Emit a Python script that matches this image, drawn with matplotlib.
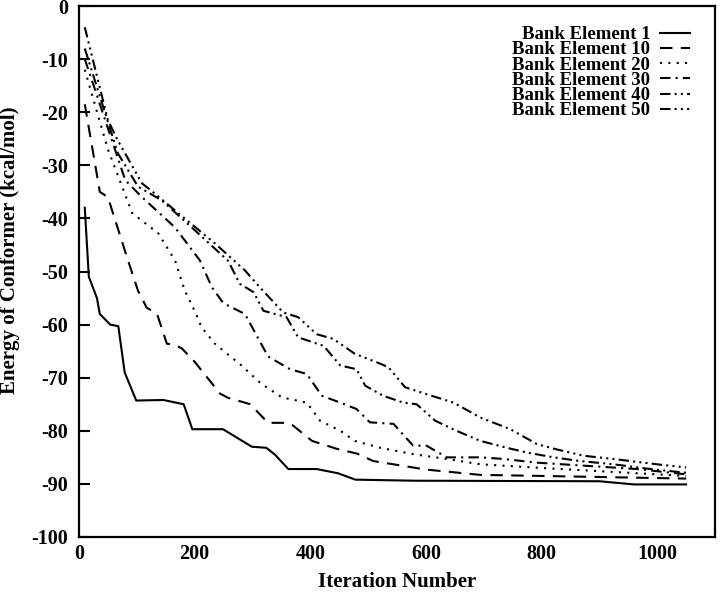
import matplotlib
matplotlib.use("Agg")
import matplotlib.pyplot as plt

# ---- data (iteration, energy in kcal/mol) ----
x1 = [10, 17, 31, 36, 54, 68, 79, 99, 146, 181, 196, 249, 299, 324, 339, 362, 411, 448, 478, 580, 900, 960, 1050]
y1 = [-38, -51, -55, -58, -60, -60.3, -69, -74.3, -74.2, -75, -79.7, -79.7, -83, -83.2, -84.5, -87.2, -87.2, -88, -89.2, -89.4, -89.5, -90.1, -90.1]

x10 = [10, 36, 50, 85, 102, 117, 135, 152, 165, 178, 200, 244, 258, 287, 296, 327, 360, 370, 403, 446, 481, 509, 600, 694, 800, 900, 1050]
y10 = [-18.5, -35, -36, -48, -53.6, -56.8, -58, -63.6, -63.8, -64.5, -67, -73, -73.8, -74.7, -75, -78.5, -78.5, -79, -81.9, -83.4, -84.3, -85.7, -87.3, -88.3, -88.5, -88.7, -89]

x20 = [10, 50, 92, 137, 166, 183, 200, 212, 235, 264, 278, 316, 351, 394, 417, 452, 477, 521, 578, 636, 694, 800, 900, 1050]
y20 = [-12, -27, -39, -42.8, -47.9, -53.6, -57.4, -60.5, -63.6, -66.2, -67.4, -71.2, -73.7, -74.7, -78.1, -80, -81.9, -83.2, -84.4, -85.3, -86.3, -87, -87.6, -88.5]

x30 = [10, 80, 109, 166, 209, 230, 250, 287, 327, 365, 394, 420, 452, 480, 503, 544, 578, 601, 636, 694, 734, 792, 878, 965, 1050]
y30 = [-10, -32.8, -36, -41.7, -47.9, -53, -56, -58, -66, -68.4, -69.3, -73.4, -74.7, -75.9, -78.4, -78.7, -82.8, -82.8, -85, -85, -85.3, -86, -86.6, -87.2, -88.2]

x40 = [10, 67, 102, 143, 195, 258, 278, 302, 319, 359, 379, 423, 452, 480, 495, 526, 561, 584, 616, 653, 694, 740, 775, 821, 867, 924, 988, 1050]
y40 = [-8, -27.7, -34, -36.6, -41.7, -48, -52.3, -53.9, -57.4, -58.6, -62.4, -64, -67.7, -68.4, -71.5, -73.4, -74.7, -75, -78.1, -80, -81.9, -83.2, -84.1, -85, -85.7, -86.3, -87.2, -87.9]

x50 = [10, 50, 67, 109, 131, 166, 235, 287, 313, 353, 379, 411, 440, 477, 515, 535, 564, 601, 648, 694, 746, 792, 826, 873, 924, 999, 1050]
y50 = [-4, -21.5, -25.3, -33.4, -35.3, -38.5, -44.7, -49.8, -53, -57.7, -58.6, -61.8, -62.7, -65.5, -67.1, -68, -71.8, -73.1, -74.7, -77.5, -79.7, -82.5, -83.5, -84.7, -85.3, -86.3, -86.9]

labels = ["Bank Element 1", "Bank Element 10", "Bank Element 20",
          "Bank Element 30", "Bank Element 40", "Bank Element 50"]
styles = [(), (6, 4), (1, 3), (5, 2.5, 1, 2.5), (5, 2, 1, 2, 1, 2), (5, 2, 1, 2, 1, 2, 1, 2)]

plt.rcParams["font.family"] = "Liberation Serif"
plt.rcParams["font.weight"] = "bold"
plt.rcParams["axes.unicode_minus"] = False

fig = plt.figure(figsize=(7.2, 5.94), dpi=100)
ax = fig.add_axes([79 / 720, 1 - 537 / 594, 636 / 720, 531 / 594])

series = [(x1, y1), (x10, y10), (x20, y20), (x30, y30), (x40, y40), (x50, y50)]
for (xs, ys), lab, ds in zip(series, labels, styles):
    ln, = ax.plot(xs, ys, color="black", lw=1.5, label=lab)
    if ds:
        ln.set_dashes(ds)

ax.set_xlim(0, 1100)
ax.set_ylim(-100, 0)
ax.set_xticks(range(0, 1001, 200))
ax.set_yticks(range(-100, 1, 10))
ax.tick_params(axis="y", direction="in", length=8, width=1.5, pad=8, labelsize=14.5)
ax.tick_params(axis="x", length=0, pad=5, labelsize=14.5)
for sp in ax.spines.values():
    sp.set_linewidth(1.6)

ax.set_xlabel("Iteration Number", fontsize=15, fontweight="bold", labelpad=6)
ax.set_ylabel("Energy of Conformer (kcal/mol)", fontsize=15, fontweight="bold")
ax.yaxis.set_label_coords(-0.093, 0.54)

leg = ax.legend(loc="upper right", bbox_to_anchor=(0.975, 0.98), frameon=False,
                markerfirst=False, fontsize=13.5, handlelength=1.6, handletextpad=0.5,
                labelspacing=-0.1, borderpad=0)

fig.savefig("out.png", dpi=100)
